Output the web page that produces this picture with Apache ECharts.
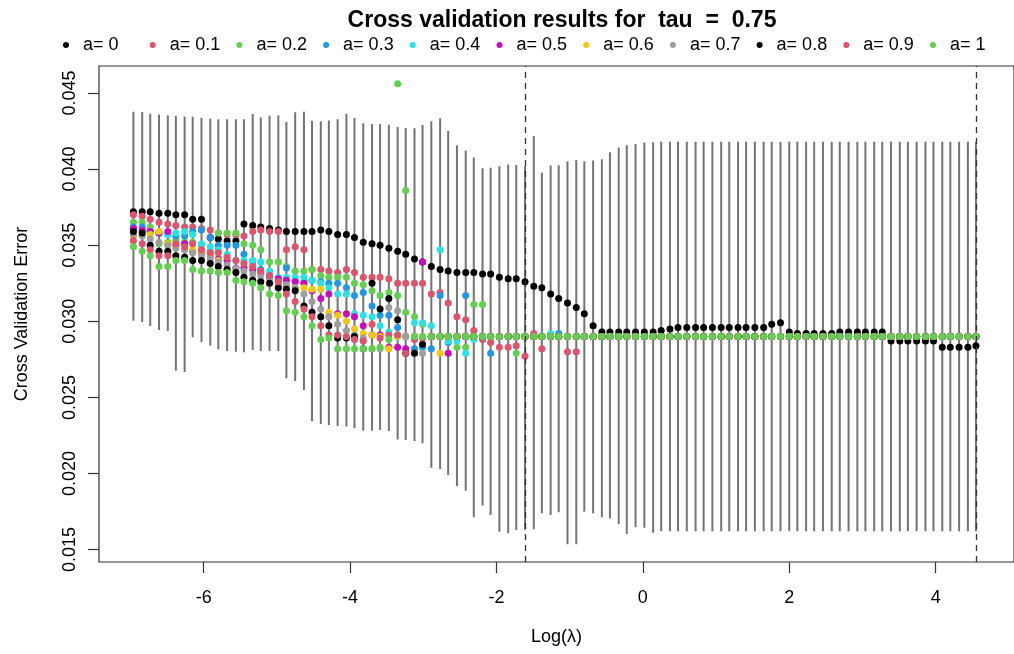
<!DOCTYPE html>
<html>
<head>
<meta charset="utf-8">
<script src="https://cdn.jsdelivr.net/npm/echarts@6/dist/echarts.min.js"></script>
<style>html,body{margin:0;padding:0;background:#fff;}#c{width:1014px;height:654px;}</style>
</head>
<body>
<div id="c"></div>
<script>
// log(lambda) grid
var logLambda = [-6.96,-6.84,-6.73,-6.61,-6.49,-6.38,-6.26,-6.15,-6.03,-5.91,
-5.80,-5.68,-5.56,-5.45,-5.33,-5.22,-5.10,-4.98,-4.87,-4.75,
-4.63,-4.52,-4.40,-4.29,-4.17,-4.05,-3.94,-3.82,-3.70,-3.59,
-3.47,-3.35,-3.24,-3.12,-3.01,-2.89,-2.77,-2.66,-2.54,-2.42,
-2.31,-2.19,-2.08,-1.96,-1.84,-1.73,-1.61,-1.49,-1.38,-1.26,
-1.15,-1.03,-0.91,-0.80,-0.68,-0.56,-0.45,-0.33,-0.22,-0.10,
0.02,0.14,0.25,0.37,0.48,0.60,0.72,0.83,0.95,1.07,
1.18,1.30,1.41,1.53,1.65,1.76,1.88,2.00,2.11,2.23,
2.34,2.46,2.58,2.69,2.81,2.93,3.04,3.16,3.27,3.39,
3.51,3.62,3.74,3.86,3.97,4.09,4.20,4.32,4.44,4.55];

// error bar limits
var barUpper = [.04377,.04375,.04364,.04358,.04353,.04349,.04344,.04344,.04336,.04331,
.04327,.04327,.04327,.04327,.04362,.04340,.04351,.04353,.04309,.04373,
.04377,.04318,.04314,.04320,.04327,.04364,.04336,.04301,.04296,.04296,
.04292,.04277,.04270,.04268,.04290,.04314,.04334,.04250,.04156,.04123,
.04077,.04005,.04009,.04018,.04031,.04027,.04020,.04217,.03976,.04023,
.04025,.04051,.04060,.04051,.04056,.04064,.04110,.04141,.04156,.04165,
.04174,.04176,.0418,.0418,.0418,.0418,.0418,.0418,.0418,.0418,
.0418,.0418,.0418,.0418,.0418,.0418,.0418,.0418,.0418,.0418,
.0418,.0418,.0418,.0418,.0418,.0418,.0418,.0418,.0418,.0418,
.0418,.0418,.0418,.0418,.0418,.0418,.0418,.0418,.0418,.0418];
var barLower = [.03004,.02995,.02969,.02943,.02936,.02676,.02667,.02895,.02864,.02840,
.02816,.02805,.02800,.02796,.02811,.02805,.02805,.02805,.02625,.02608,
.02549,.02345,.02325,.02319,.02312,.02308,.02297,.02281,.02281,.02285,
.02279,.02224,.02220,.02213,.02198,.02038,.02029,.01990,.01918,.01887,
.01712,.01789,.01727,.01618,.01607,.01629,.01630,.01633,.01738,.01727,
.01745,.01535,.01535,.01749,.01738,.01712,.01705,.01668,.01603,.01646,
.01644,.01611,.0162,.0162,.0162,.0162,.0162,.0162,.0162,.0162,
.0162,.0162,.0162,.0162,.0162,.0162,.0162,.0162,.0162,.0162,
.0162,.0162,.0162,.0162,.0162,.0162,.0162,.0162,.0162,.0162,
.0162,.0162,.0162,.0162,.0162,.0162,.0162,.0162,.0162,.0162];

// CV error per alpha
var a00 = [.0372,.0372,.0372,.0371,.0371,.0370,.0370,.0367,.0367,.0355,
.0354,.0353,.0353,.0364,.0363,.0362,.0361,.0360,.0359,.0359,
.0359,.0359,.0360,.0359,.0357,.0357,.0355,.0352,.0351,.0350,
.0348,.0346,.0344,.0341,.0339,.0336,.0334,.0333,.0332,.0332,
.0332,.0331,.0331,.0329,.0328,.0328,.0326,.0323,.0322,.0318,
.0315,.0312,.0309,.0305,.0297,.0293,.0293,.0293,.0293,.0293,
.0293,.0293,.0294,.0295,.0296,.0296,.0296,.0296,.0296,.0296,
.0296,.0296,.0296,.0296,.0296,.0298,.0299,.0293,.0292,.0292,
.0292,.0292,.0292,.0293,.0293,.0293,.0293,.0293,.0293,.0287,
.0287,.0287,.0287,.0287,.0287,.0283,.0283,.0283,.0283,.0284];
var a01 = [.0370,.0369,.0367,.0365,.0364,.0363,.0362,.0362,.0361,.0360,
.0358,.0357,.0357,.0356,.0359,.0360,.0359,.0359,.0347,.0349,
.0347,.0334,.0334,.0333,.0332,.0334,.0332,.0329,.0329,.0329,
.0328,.0325,.0325,.0325,.0325,.0318,.0319,.0312,.0303,.0301,
.0294,.0288,.0286,.0283,.0283,.0284,.0277,.0292,.0282,.0290,
.0290,.0280,.0280,.0290,.0290,.0290,.0290,.0290,.0290,.0290,
.0290,.0290,.0290,.0290,.0290,.0290,.0290,.0290,.0290,.0290,
.0290,.0290,.0290,.0290,.0290,.0290,.0290,.0290,.0290,.0290,
.0290,.0290,.0290,.0290,.0290,.0290,.0290,.0290,.0290,.0290,
.0290,.0290,.0290,.0290,.0290,.0290,.0290,.0290,.0290,.0290];
var a02 = [.0365,.0365,.0362,.0351,.0352,.0353,.0352,.0352,.0350,.0346,
.0358,.0358,.0358,.0351,.0350,.0347,.0339,.0339,.0336,.0333,
.0333,.0334,.0330,.0329,.0329,.0329,.0325,.0324,.0320,.0317,
.0319,.0317,.0306,.0303,.0298,.0290,.0290,.0290,.0283,.0283,
.0311,.0311,.0290,.0290,.0290,.0279,.0290,.0290,.0290,.0290,
.0290,.0290,.0290,.0290,.0290,.0290,.0290,.0290,.0290,.0290,
.0290,.0290,.0290,.0290,.0290,.0290,.0290,.0290,.0290,.0290,
.0290,.0290,.0290,.0290,.0290,.0290,.0290,.0290,.0290,.0290,
.0290,.0290,.0290,.0290,.0290,.0290,.0290,.0290,.0290,.0290,
.0290,.0290,.0290,.0290,.0290,.0290,.0290,.0290,.0290,.0290];
var a03 = [.0362,.0362,.0359,.0358,.0357,.0356,.0356,.0359,.0360,.0355,
.0350,.0350,.0350,.0344,.0339,.0334,.0329,.0327,.0335,.0327,
.0326,.0327,.0326,.0325,.0325,.0322,.0317,.0319,.0310,.0304,
.0304,.0296,.0290,.0282,.0283,.0282,.0317,.0286,.0290,.0317,
.0290,.0290,.0279,.0290,.0290,.0290,.0290,.0290,.0290,.0290,
.0292,.0290,.0290,.0290,.0290,.0290,.0290,.0290,.0290,.0290,
.0290,.0290,.0290,.0290,.0290,.0290,.0290,.0290,.0290,.0290,
.0290,.0290,.0290,.0290,.0290,.0290,.0290,.0290,.0290,.0290,
.0290,.0290,.0290,.0290,.0290,.0290,.0290,.0290,.0290,.0290,
.0290,.0290,.0290,.0290,.0290,.0290,.0290,.0290,.0290,.0290];
var a04 = [.0360,.0360,.0359,.0358,.0357,.0358,.0359,.0357,.0351,.0349,
.0347,.0344,.0340,.0340,.0340,.0339,.0333,.0329,.0329,.0329,
.0329,.0327,.0325,.0322,.0318,.0318,.0305,.0304,.0303,.0297,
.0293,.0290,.0290,.0299,.0299,.0297,.0347,.0287,.0287,.0279,
.0288,.0290,.0290,.0290,.0290,.0290,.0290,.0290,.0290,.0292,
.0290,.0290,.0290,.0290,.0290,.0290,.0290,.0290,.0290,.0290,
.0290,.0290,.0290,.0290,.0290,.0290,.0290,.0290,.0290,.0290,
.0290,.0290,.0290,.0290,.0290,.0290,.0290,.0290,.0290,.0290,
.0290,.0290,.0290,.0290,.0290,.0290,.0290,.0290,.0290,.0290,
.0290,.0290,.0290,.0290,.0290,.0290,.0290,.0290,.0290,.0290];
var a05 = [.0361,.0360,.0359,.0358,.0359,.0350,.0351,.0346,.0345,.0343,
.0341,.0340,.0335,.0335,.0334,.0332,.0330,.0328,.0327,.0326,
.0325,.0320,.0315,.0318,.0305,.0305,.0303,.0297,.0291,.0291,
.0283,.0283,.0282,.0290,.0339,.0290,.0290,.0279,.0290,.0290,
.0290,.0290,.0290,.0290,.0290,.0290,.0290,.0290,.0290,.0290,
.0290,.0290,.0290,.0290,.0290,.0290,.0290,.0290,.0290,.0290,
.0290,.0290,.0290,.0290,.0290,.0290,.0290,.0290,.0290,.0290,
.0290,.0290,.0290,.0290,.0290,.0290,.0290,.0290,.0290,.0290,
.0290,.0290,.0290,.0290,.0290,.0290,.0290,.0290,.0290,.0290,
.0290,.0290,.0290,.0290,.0290,.0290,.0290,.0290,.0290,.0290];
var a06 = [.0356,.0357,.0357,.0359,.0351,.0350,.0348,.0347,.0346,.0344,
.0340,.0334,.0333,.0329,.0327,.0326,.0325,.0324,.0323,.0322,
.0322,.0321,.0321,.0306,.0304,.0300,.0295,.0292,.0291,.0290,
.0282,.0290,.0290,.0290,.0290,.0290,.0279,.0290,.0290,.0290,
.0290,.0290,.0290,.0290,.0290,.0290,.0290,.0290,.0290,.0290,
.0290,.0290,.0290,.0290,.0290,.0290,.0290,.0290,.0290,.0290,
.0290,.0290,.0290,.0290,.0290,.0290,.0290,.0290,.0290,.0290,
.0290,.0290,.0290,.0290,.0290,.0290,.0290,.0290,.0290,.0290,
.0290,.0290,.0290,.0290,.0290,.0290,.0290,.0290,.0290,.0290,
.0290,.0290,.0290,.0290,.0290,.0290,.0290,.0290,.0290,.0290];
var a07 = [.0357,.0356,.0354,.0352,.0350,.0348,.0347,.0345,.0343,.0341,
.0339,.0337,.0335,.0333,.0331,.0330,.0328,.0326,.0324,.0322,
.0318,.0313,.0308,.0303,.0298,.0294,.0291,.0289,.0282,.0282,
.0309,.0307,.0290,.0290,.0279,.0290,.0290,.0290,.0290,.0290,
.0290,.0290,.0290,.0290,.0290,.0290,.0290,.0290,.0290,.0290,
.0290,.0290,.0290,.0290,.0290,.0290,.0290,.0290,.0290,.0290,
.0290,.0290,.0290,.0290,.0290,.0290,.0290,.0290,.0290,.0290,
.0290,.0290,.0290,.0290,.0290,.0290,.0290,.0290,.0290,.0290,
.0290,.0290,.0290,.0290,.0290,.0290,.0290,.0290,.0290,.0290,
.0290,.0290,.0290,.0290,.0290,.0290,.0290,.0290,.0290,.0290];
var a08 = [.0359,.0358,.0350,.0346,.0346,.0343,.0342,.0340,.0340,.0338,
.0336,.0334,.0332,.0329,.0327,.0326,.0325,.0322,.0321,.0320,
.0310,.0306,.0303,.0297,.0289,.0289,.0290,.0282,.0325,.0308,
.0315,.0301,.0279,.0279,.0285,.0290,.0290,.0290,.0290,.0290,
.0290,.0290,.0290,.0290,.0290,.0290,.0290,.0290,.0290,.0290,
.0290,.0290,.0290,.0290,.0290,.0290,.0290,.0290,.0290,.0290,
.0290,.0290,.0290,.0290,.0290,.0290,.0290,.0290,.0290,.0290,
.0290,.0290,.0290,.0290,.0290,.0290,.0290,.0290,.0290,.0290,
.0290,.0290,.0290,.0290,.0290,.0290,.0290,.0290,.0290,.0290,
.0290,.0290,.0290,.0290,.0290,.0290,.0290,.0290,.0290,.0290];
var a09 = [.0353,.0351,.0347,.0343,.0343,.0351,.0349,.0351,.0347,.0345,
.0345,.0342,.0340,.0338,.0336,.0333,.0330,.0326,.0318,.0313,
.0308,.0303,.0297,.0291,.0291,.0290,.0288,.0287,.0298,.0289,
.0291,.0291,.0279,.0288,.0289,.0290,.0290,.0290,.0290,.0290,
.0290,.0290,.0290,.0290,.0290,.0290,.0290,.0290,.0290,.0290,
.0290,.0290,.0290,.0290,.0290,.0290,.0290,.0290,.0290,.0290,
.0290,.0290,.0290,.0290,.0290,.0290,.0290,.0290,.0290,.0290,
.0290,.0290,.0290,.0290,.0290,.0290,.0290,.0290,.0290,.0290,
.0290,.0290,.0290,.0290,.0290,.0290,.0290,.0290,.0290,.0290,
.0290,.0290,.0290,.0290,.0290,.0290,.0290,.0290,.0290,.0290];
var a10 = [.0349,.0346,.0343,.0336,.0336,.0340,.0340,.0334,.0333,.0333,
.0332,.0332,.0327,.0326,.0325,.0322,.0318,.0317,.0307,.0306,
.0303,.0297,.0288,.0289,.0282,.0282,.0282,.0282,.0282,.0283,
.0288,.0456,.0386,.0290,.0290,.0290,.0290,.0290,.0290,.0290,
.0290,.0290,.0290,.0290,.0290,.0290,.0290,.0290,.0290,.0290,
.0290,.0290,.0290,.0290,.0290,.0290,.0290,.0290,.0290,.0290,
.0290,.0290,.0290,.0290,.0290,.0290,.0290,.0290,.0290,.0290,
.0290,.0290,.0290,.0290,.0290,.0290,.0290,.0290,.0290,.0290,
.0290,.0290,.0290,.0290,.0290,.0290,.0290,.0290,.0290,.0290,
.0290,.0290,.0290,.0290,.0290,.0290,.0290,.0290,.0290,.0290];

var seriesNames = ['a= 0','a= 0.1','a= 0.2','a= 0.3','a= 0.4','a= 0.5','a= 0.6','a= 0.7','a= 0.8','a= 0.9','a= 1'];
var seriesValues = [a00,a01,a02,a03,a04,a05,a06,a07,a08,a09,a10];
var seriesColors = ['#000000','#DF536B','#61D04F','#2297E6','#28E2E5','#CD0BBC','#F5C710','#9E9E9E','#000000','#DF536B','#61D04F'];
var xTicks = [-6,-4,-2,0,2,4];
var yTicks = [0.015,0.020,0.025,0.030,0.035,0.040,0.045];
var vLines = [-1.61, 4.55];

var FONT = 'Liberation Sans, Arial, Helvetica, sans-serif';
var chart = echarts.init(document.getElementById('c'), null, {renderer:'canvas'});

var series = [{
  type: 'custom',
  name: 'bars',
  silent: true,
  data: logLambda.map(function(x,i){ return [x, barLower[i], barUpper[i]]; }),
  encode: {x: 0, y: [1, 2]},
  renderItem: function(params, api){
    var p1 = api.coord([api.value(0), api.value(1)]);
    var p2 = api.coord([api.value(0), api.value(2)]);
    return {type:'line', shape:{x1:p1[0], y1:p1[1], x2:p2[0], y2:p2[1]},
            style:{stroke:'#747474', lineWidth:2}};
  },
  markLine: {
    silent: true,
    symbol: ['none','none'],
    label: {show:false},
    lineStyle: {type:[6,5], color:'#333', width:1.3},
    data: vLines.map(function(v){ return {xAxis: v}; })
  },
  z: 1
}];
seriesValues.forEach(function(vals, k){
  series.push({
    type: 'scatter',
    name: seriesNames[k],
    symbol: 'circle',
    symbolSize: 7,
    itemStyle: {color: seriesColors[k], opacity: 1},
    data: logLambda.map(function(x,i){ return [x, vals[i]]; }),
    z: 2
  });
});

// one legend block per entry, evenly spaced like R's horizontal legend
var legends = seriesNames.map(function(n, k){
  return {
    data: [{name: n, icon: 'circle'}],
    left: 63 + 86.7 * k, top: 36,
    itemWidth: 6, itemHeight: 6,
    padding: 0,
    selectedMode: false,
    textStyle: {fontFamily: FONT, fontSize: 18, color: '#000', padding: [0, 0, 0, 9]}
  };
});

chart.setOption({
  animation: false,
  backgroundColor: '#fff',
  title: {
    text: 'Cross validation results for  tau  =  0.75',
    left: 557, top: 4, textAlign: 'center',
    textStyle: {fontFamily: FONT, fontSize: 23, fontWeight: 'bold', color: '#000'}
  },
  legend: legends,
  grid: {left: 99, right: -9, top: 66, bottom: 92, show: true, borderColor: '#333', borderWidth: 1.2, containLabel: false},
  xAxis: {
    type: 'value', min: -7.43, max: 5.07,
    name: 'Log(λ)', nameLocation: 'middle', nameGap: 66,
    nameTextStyle: {fontFamily: FONT, fontSize: 18, color: '#000'},
    axisLine: {show: false, onZero: false},
    splitLine: {show: false},
    axisTick: {show: true, length: 11, lineStyle:{color:'#333', width:1.2}, customValues: xTicks},
    axisLabel: {fontFamily: FONT, fontSize: 18, color: '#000', margin: 27, customValues: xTicks}
  },
  yAxis: {
    type: 'value', min: 0.014185, max: 0.046774,
    name: 'Cross Validation Error', nameLocation: 'middle', nameGap: 68, nameRotate: 90,
    nameTextStyle: {fontFamily: FONT, fontSize: 18, color: '#000'},
    axisLine: {show: false, onZero: false},
    splitLine: {show: false},
    axisTick: {show: true, length: 11, lineStyle:{color:'#333', width:1.2}, customValues: yTicks},
    axisLabel: {fontFamily: FONT, fontSize: 18, color: '#000', margin: 20, rotate: 90,
      customValues: yTicks, formatter: function(v){ return v.toFixed(3); }}
  },
  series: series
});
</script>
</body>
</html>
